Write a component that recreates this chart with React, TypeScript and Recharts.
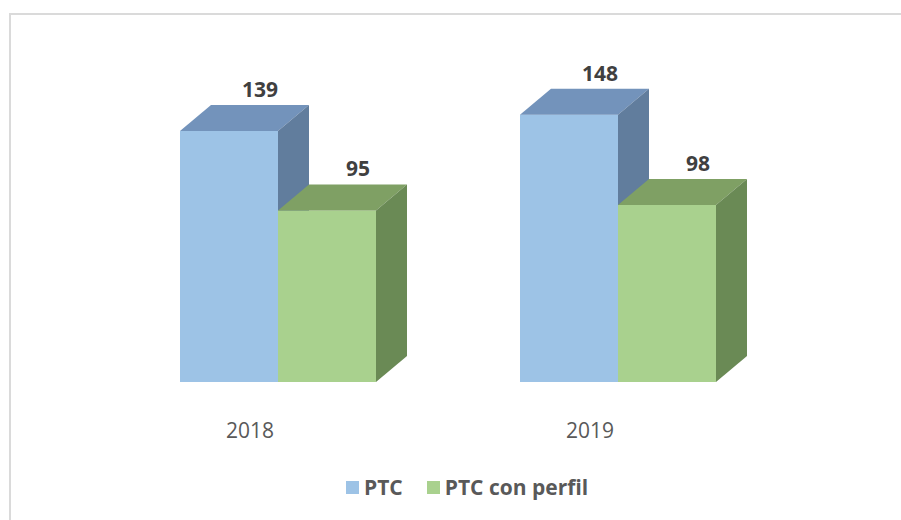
import { Bar, BarChart, LabelList, XAxis, YAxis } from "recharts";

const years = ["2018", "2019"];
const ptc = [139, 148];
const ptcPerfil = [95, 98];
const seriesNames = ["PTC", "PTC con perfil"];

const data = years.map((year, i) => ({
  year,
  ptc: ptc[i],
  perfil: ptcPerfil[i],
}));

const DX = 31;
const DY = 26;
const FONT = "'Open Sans', 'Liberation Sans', sans-serif";

const blue = { front: "#9DC3E6", top: "#7393BB", side: "#617D9D" };
const green = { front: "#A9D18E", top: "#7FA064", side: "#6A8A55" };

const box3d = (c: { front: string; top: string; side: string }) => (props: any) => {
  const { x, y, width: w, height: h } = props;
  if (!h) return <g />;
  return (
    <g>
      <rect x={x} y={y} width={w} height={h} fill={c.front} />
      <polygon
        points={`${x},${y} ${x + DX},${y - DY} ${x + w + DX},${y - DY} ${x + w},${y}`}
        fill={c.top}
      />
      <polygon
        points={`${x + w},${y} ${x + w + DX},${y - DY} ${x + w + DX},${y + h - DY} ${x + w},${y + h}`}
        fill={c.side}
      />
    </g>
  );
};

const valueLabel = (props: any) => {
  const { x, y, width, value } = props;
  return (
    <text
      x={x + width / 2 + DX}
      y={y - DY - 8}
      textAnchor="middle"
      fontFamily={FONT}
      fontWeight="bold"
      fontSize={21}
      fill="#404040"
    >
      {value}
    </text>
  );
};

const yearTick = (props: any) => {
  const { x, y, payload } = props;
  return (
    <text
      x={x - 27.5}
      y={y + 48}
      textAnchor="middle"
      fontFamily={FONT}
      fontSize={21}
      fill="#595959"
    >
      {payload.value}
    </text>
  );
};

const legendItems = [
  { name: seriesNames[0], color: blue.front },
  { name: seriesNames[1], color: green.front },
];

export default function App() {
  return (
    <div
      style={{
        position: "fixed",
        left: 0,
        top: 0,
        width: 901,
        height: 520,
        overflow: "hidden",
        background: "#fff",
      }}
    >
      <div
        style={{
          position: "absolute",
          left: 9,
          top: 13,
          width: 910,
          height: 520,
          border: "2px solid #dadada",
          boxSizing: "border-box",
        }}
      />
      <div style={{ position: "absolute", left: 8, top: 8 }}>
        <BarChart
          width={893}
          height={512}
          data={data}
          margin={{ top: 85, right: 113.5, bottom: 108, left: 99.5 }}
          barCategoryGap={72.5}
          barGap={0}
        >
          <XAxis
            dataKey="year"
            axisLine={false}
            tickLine={false}
            height={30}
            tick={yearTick}
          />
          <YAxis hide domain={[0, 160]} />
          <Bar dataKey="ptc" name={seriesNames[0]} shape={box3d(blue)} isAnimationActive={false}>
            <LabelList dataKey="ptc" content={valueLabel} />
          </Bar>
          <Bar dataKey="perfil" name={seriesNames[1]} shape={box3d(green)} isAnimationActive={false}>
            <LabelList dataKey="perfil" content={valueLabel} />
          </Bar>
        </BarChart>
      </div>
      <div
        style={{
          position: "absolute",
          left: 346,
          top: 477,
          display: "flex",
          alignItems: "center",
          fontFamily: FONT,
          fontWeight: "bold",
          fontSize: 21,
          lineHeight: "21px",
          color: "#595959",
        }}
      >
        {legendItems.map((item, i) => (
          <div
            key={item.name}
            style={{ display: "flex", alignItems: "center", marginLeft: i ? 24 : 0 }}
          >
            <span
              style={{
                display: "inline-block",
                width: 13,
                height: 13,
                background: item.color,
                marginRight: 5,
              }}
            />
            <span>{item.name}</span>
          </div>
        ))}
      </div>
    </div>
  );
}
